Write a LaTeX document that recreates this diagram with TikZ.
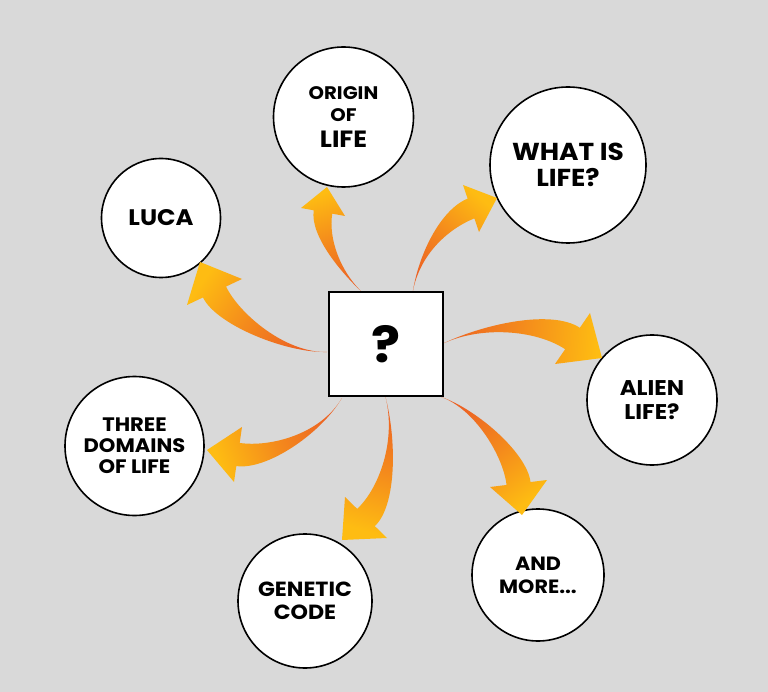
\documentclass[tikz,border=0pt]{standalone}
\usepackage{fontspec}
\setmainfont{Poppins}[FakeStretch=1.08]
\usetikzlibrary{calc}
\definecolor{bgc}{RGB}{217,217,217}
\definecolor{arrO}{RGB}{236,98,36}
\definecolor{arrY}{RGB}{254,188,18}
\newcommand\swoosh[7]{%
  \coordinate (sw-bc) at ($(#3)!0.5!(#4)$);
  \coordinate (sw-e1) at ($(sw-bc)!0.42!(#3)$);
  \coordinate (sw-e2) at ($(sw-bc)!0.42!(#4)$);
  \coordinate (sw-k) at ($(sw-bc)!-#6pt!(#5)$);
  \shade[top color=arrY, bottom color=arrO, middle color=arrO!55!arrY, shading angle=#7]
    (#1) .. controls (#2) and ($(sw-k)+(sw-e1)-(sw-bc)$) .. (sw-e1)
    -- (#3) -- (#5) -- (#4) -- (sw-e2)
    .. controls ($(sw-k)+(sw-e2)-(sw-bc)$) and (#2) .. (#1) -- cycle;
}
\tikzset{
  bubble/.style={circle, draw=black, line width=1.6pt, fill=white, inner sep=0pt, align=center},
  qbox/.style={rectangle, draw=black, line width=1.8pt, fill=white, minimum width=114pt, minimum height=104pt, inner sep=0pt}
}
\begin{document}
\begin{tikzpicture}[x=1pt,y=-1pt]
\fill[bgc] (0,0) rectangle (768,692);
\useasboundingbox (0,0) rectangle (768,692);

% circles
\node[bubble, minimum size=140pt, font=\bfseries\fontsize{18.2}{22.4}\selectfont] (origin) at (343.5,117)
  {ORIGIN\\OF\\[3pt]{\fontsize{23.5}{26}\selectfont LIFE}};
\node[bubble, minimum size=156pt, font=\bfseries\fontsize{24.5}{26}\selectfont] (what) at (568,165)
  {WHAT IS\\LIFE?};
\node[bubble, minimum size=119pt, font=\bfseries\fontsize{22.5}{24}\selectfont] (luca) at (161,218)
  {LUCA};
\node[bubble, minimum size=139pt, font=\bfseries\fontsize{19.5}{21}\selectfont] (three) at (134.5,446)
  {THREE\\DOMAINS\\OF LIFE};
\node[bubble, minimum size=130pt, font=\bfseries\fontsize{21.3}{23.3}\selectfont] (alien) at (652,400)
  {ALIEN\\LIFE?};
\node[bubble, minimum size=132pt, font=\bfseries\fontsize{19.2}{22.7}\selectfont] (more) at (538,575)
  {AND\\MORE...};
\node[bubble, minimum size=134pt, font=\bfseries\fontsize{20.5}{22.7}\selectfont] (genetic) at (305,601)
  {GENETIC\\CODE};

% arrow anchor points
\coordinate (t1) at (327,352); \coordinate (c1) at (285,353);
\coordinate (a1) at (187,305); \coordinate (b1) at (242,279); \coordinate (p1) at (200,262);
\coordinate (t2) at (364,294); \coordinate (c2) at (340,272);
\coordinate (a2) at (301,208); \coordinate (b2) at (345,216); \coordinate (p2) at (327,187);
\coordinate (t3) at (412,297); \coordinate (c3) at (417,257);
\coordinate (a3) at (463,185); \coordinate (b3) at (479,232); \coordinate (p3) at (497,198);
\coordinate (t4) at (440,345); \coordinate (c4) at (480,325);
\coordinate (a4) at (590,313); \coordinate (b4) at (555,364); \coordinate (p4) at (602,358);
\coordinate (t5) at (438,396); \coordinate (c5) at (473,406);
\coordinate (a5) at (490,487); \coordinate (b5) at (547,480); \coordinate (p5) at (522,515);
\coordinate (t6) at (342,398); \coordinate (c6) at (320,435);
\coordinate (a6) at (242,427); \coordinate (b6) at (234,482); \coordinate (p6) at (207,450);
\coordinate (t7) at (385,395); \coordinate (c7) at (397,440);
\coordinate (a7) at (345,497); \coordinate (b7) at (387,538); \coordinate (p7) at (342,540);

\swoosh{t1}{c1}{a1}{b1}{p1}{30}{54.7}
\swoosh{t2}{c2}{a2}{b2}{p2}{25}{19}
\swoosh{t3}{c3}{a3}{b3}{p3}{30}{-40.6}
\swoosh{t4}{c4}{a4}{b4}{p4}{35}{-94.6}
\swoosh{t5}{c5}{a5}{b5}{p5}{30}{-144.8}
\swoosh{t6}{c6}{a6}{b6}{p6}{30}{111}
\swoosh{t7}{c7}{a7}{b7}{p7}{30}{163.5}

% central box
\node[qbox, font=\bfseries\fontsize{50}{50}\selectfont] (q) at (386,344) {?};
\end{tikzpicture}
\end{document}
